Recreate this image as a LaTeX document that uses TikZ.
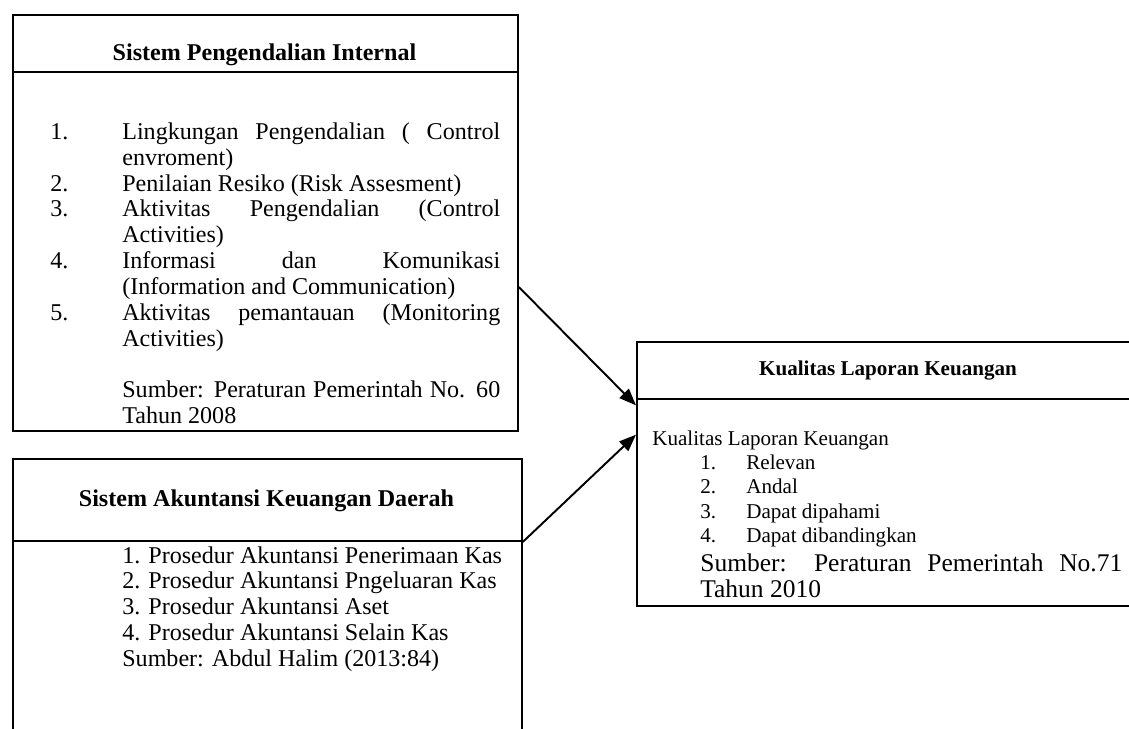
\documentclass[tikz,border=0pt]{standalone}
\usepackage{fontspec}
\setmainfont{Liberation Serif}
\usepackage{tikz}
\usetikzlibrary{arrows.meta}

\newcommand{\spread}[2]{\makebox[#1][s]{#2}}

\begin{document}
\begin{tikzpicture}[x=0.02cm, y=-0.02cm,
  box/.style={draw=black, line width=1.1pt, rectangle, inner sep=0pt, anchor=north west},
  title/.style={anchor=base, inner sep=0pt, font=\bfseries\fontsize{13.7}{14.4}\selectfont},
  txt/.style={anchor=base west, inner sep=0pt},
  link/.style={line width=1.1pt, -{Triangle[length=0.34cm,width=0.26cm]}}]
\useasboundingbox (0,0) rectangle (1129,729);
% Sistem Pengendalian Internal
\node[box, minimum width=10.1cm, minimum height=1.14cm] (spiHead) at (12,14) {};
\node[box, minimum width=10.1cm, minimum height=7.18cm] (spiBody) at (12,71) {};
\node[title] (spiTitle) at (264.5,61) {Sistem Pengendalian Internal};
\node[txt, font=\fontsize{13.7}{14.7}\selectfont] (spiList) at (50,139.5) {%
\begin{tabular}[t]{@{}p{1.44cm}@{}p{7.56cm}@{}}
1. & \spread{7.56cm}{Lingkungan Pengendalian ( Control}\\
   & envroment)\\
2. & Penilaian Resiko (Risk Assesment)\\
3. & \spread{7.56cm}{Aktivitas Pengendalian (Control}\\
   & Activities)\\
4. & \spread{7.56cm}{Informasi dan Komunikasi}\\
   & (Information and Communication)\\
5. & \spread{7.56cm}{Aktivitas pemantauan (Monitoring}\\
   & Activities)\\
   & \\
   & \spread{7.56cm}{Sumber: Peraturan Pemerintah No. 60}\\
   & Tahun 2008
\end{tabular}};
% Sistem Akuntansi Keuangan Daerah
\node[box, minimum width=10.18cm, minimum height=1.64cm] (sakdHead) at (12,458) {};
\node[box, minimum width=10.18cm, minimum height=4cm] (sakdBody) at (12,540) {};
\node[title] (sakdTitle) at (266.5,506) {Sistem Akuntansi Keuangan Daerah};
\node[txt, font=\fontsize{13.7}{14.7}\selectfont] (sakdList) at (122,563) {%
\begin{tabular}[t]{@{}l@{}}
1. Prosedur Akuntansi Penerimaan Kas\\
2. Prosedur Akuntansi Pngeluaran Kas\\
3. Prosedur Akuntansi Aset\\
4. Prosedur Akuntansi Selain Kas\\
Sumber: Abdul Halim (2013:84)
\end{tabular}};
% Kualitas Laporan Keuangan
\node[box, minimum width=10.08cm, minimum height=1.14cm] (klkHead) at (636,341) {};
\node[box, minimum width=10.08cm, minimum height=4.14cm] (klkBody) at (636,398) {};
\node[title, font=\bfseries\fontsize{12}{13}\selectfont] (klkTitle) at (888,376) {Kualitas Laporan Keuangan};
\node[txt, font=\fontsize{12}{13.9}\selectfont] (klkList) at (652,445) {%
\begin{tabular}[t]{@{}p{0.96cm}@{}p{0.92cm}@{}l@{}}
\multicolumn{3}{@{}l@{}}{Kualitas Laporan Keuangan}\\
 & 1. & Relevan\\
 & 2. & Andal\\
 & 3. & Dapat dipahami\\
 & 4. & Dapat dibandingkan
\end{tabular}};
\node[txt, font=\fontsize{14.5}{15.3}\selectfont] (klkSrc) at (700,571) {%
\begin{tabular}[t]{@{}l@{}}
\spread{8.44cm}{Sumber: Peraturan Pemerintah No.71}\\
Tahun 2010
\end{tabular}};
% links
\draw[link] (spiBody.-8.9) -- (klkBody.159.4);
\draw[link] (sakdHead.south east) -- (klkBody.165.9);
\end{tikzpicture}
\end{document}
